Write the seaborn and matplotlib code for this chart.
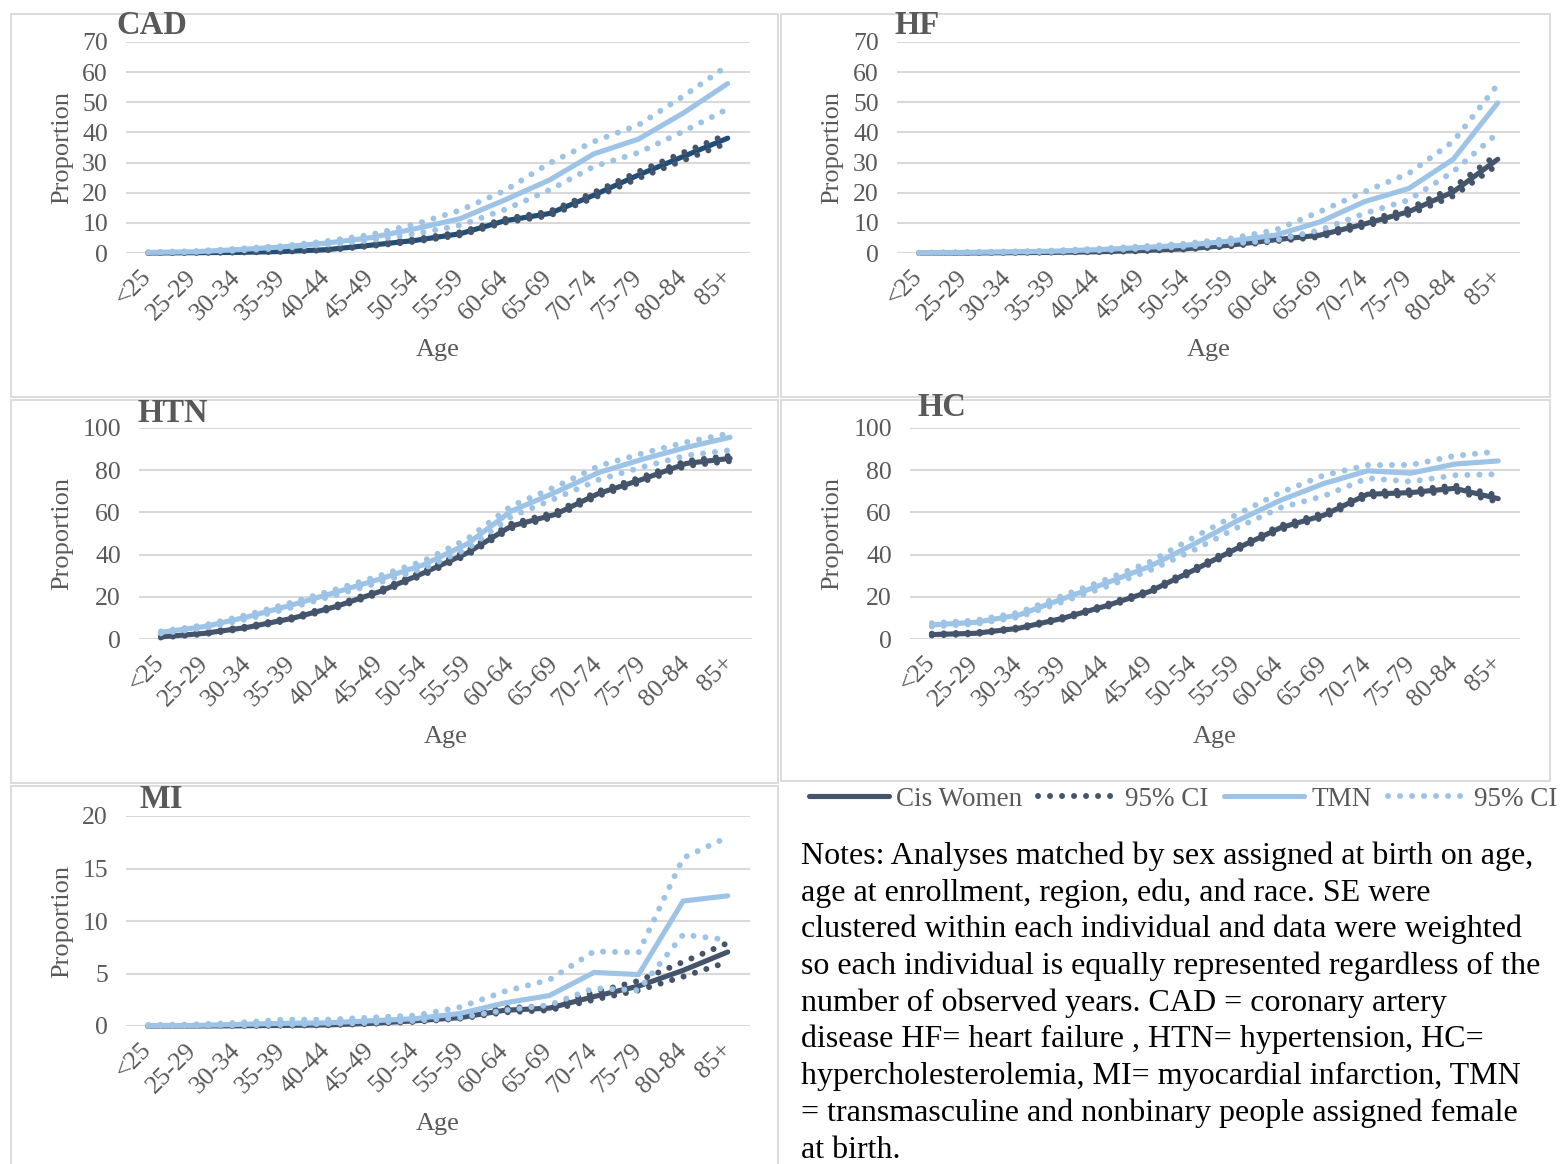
import numpy as np
import pandas as pd
import matplotlib
matplotlib.use("Agg")
import matplotlib.pyplot as plt
from matplotlib.patches import Rectangle
import seaborn as sns

sns.set_theme(style="white")
plt.rcParams["font.family"] = ["Liberation Serif", "DejaVu Serif"]

# ---- data -------------------------------------------------------------
ages = ["<25", "25-29", "30-34", "35-39", "40-44", "45-49", "50-54",
        "55-59", "60-64", "65-69", "70-74", "75-79", "80-84", "85+"]

cad_cis    = [0.0, 0.1, 0.2, 0.5, 1.1, 2.6, 4.2, 6.4, 10.7, 13.1, 19.2, 25.9, 32.0, 38.1]
cad_cis_lo = [0.0, 0.05, 0.15, 0.4, 0.9, 2.3, 3.8, 5.9, 10.1, 12.4, 18.3, 24.8, 30.7, 36.6]
cad_cis_hi = [0.05, 0.15, 0.3, 0.6, 1.3, 2.9, 4.6, 6.9, 11.3, 13.8, 20.1, 27.0, 33.3, 39.4]
cad_tmn    = [0.2, 0.4, 1.1, 2.0, 3.3, 5.1, 8.1, 11.4, 17.6, 24.2, 32.9, 37.8, 46.4, 56.2]
cad_tmn_lo = [0.1, 0.3, 0.8, 1.6, 2.8, 4.2, 6.4, 9.2, 14.4, 20.9, 28.7, 33.3, 40.3, 47.8]
cad_tmn_hi = [0.3, 0.6, 1.4, 2.3, 3.9, 6.1, 9.6, 14.2, 20.7, 29.8, 37.0, 42.5, 52.0, 62.2]

hf_cis    = [0.0, 0.0, 0.1, 0.2, 0.4, 0.8, 1.4, 2.6, 4.4, 5.9, 9.6, 13.7, 20.3, 31.1]
hf_cis_lo = [0.0, 0.0, 0.05, 0.15, 0.3, 0.6, 1.2, 2.2, 3.9, 5.3, 8.8, 12.7, 18.9, 29.3]
hf_cis_hi = [0.0, 0.05, 0.15, 0.25, 0.5, 1.0, 1.6, 3.0, 4.9, 6.5, 10.4, 14.7, 21.7, 32.9]
hf_tmn    = [0.1, 0.2, 0.4, 0.6, 1.1, 1.8, 2.6, 4.0, 5.9, 10.3, 17.0, 21.4, 31.1, 49.8]
hf_tmn_lo = [0.0, 0.1, 0.2, 0.4, 0.8, 1.4, 2.1, 3.1, 4.2, 7.6, 13.1, 17.6, 27.0, 39.8]
hf_tmn_hi = [0.1, 0.3, 0.5, 0.8, 1.4, 2.2, 3.1, 4.8, 7.6, 13.7, 20.3, 26.4, 37.0, 55.9]

htn_cis    = [1.0, 2.7, 5.6, 9.8, 15.4, 22.5, 31.3, 40.8, 53.5, 59.0, 69.0, 75.7, 83.2, 85.6]
htn_cis_lo = [0.7, 2.3, 5.1, 9.2, 14.7, 21.7, 30.4, 39.8, 52.4, 57.9, 67.9, 74.5, 82.0, 84.3]
htn_cis_hi = [1.3, 3.1, 6.1, 10.4, 16.1, 23.3, 32.2, 41.8, 54.6, 60.1, 70.1, 76.9, 84.4, 86.9]
htn_tmn    = [3.2, 5.9, 10.6, 16.2, 22.2, 28.4, 35.2, 45.1, 60.6, 69.4, 78.9, 85.2, 90.8, 95.6]
htn_tmn_lo = [2.7, 5.2, 9.6, 15.0, 20.8, 26.8, 33.4, 42.8, 58.0, 66.5, 75.5, 81.5, 87.0, 89.5]
htn_tmn_hi = [3.6, 6.6, 11.6, 17.4, 23.6, 30.0, 37.0, 47.5, 63.0, 72.0, 82.0, 88.0, 93.3, 97.5]

hc_cis    = [2.1, 2.7, 5.1, 9.8, 15.7, 22.5, 32.5, 42.9, 52.7, 58.7, 68.6, 69.4, 71.4, 66.5]
hc_cis_lo = [1.7, 2.3, 4.6, 9.2, 15.0, 21.7, 31.6, 41.9, 51.6, 57.6, 67.5, 68.3, 70.1, 65.0]
hc_cis_hi = [2.5, 3.1, 5.6, 10.4, 16.4, 23.3, 33.4, 43.9, 53.8, 59.8, 69.7, 70.5, 72.8, 68.0]
hc_tmn    = [6.7, 7.9, 11.4, 19.0, 26.5, 34.4, 44.8, 55.9, 65.7, 73.7, 79.7, 78.6, 82.9, 84.4]
hc_tmn_lo = [5.9, 7.1, 10.4, 17.6, 24.8, 32.5, 42.0, 52.7, 62.2, 67.8, 76.2, 74.6, 77.6, 78.1]
hc_tmn_hi = [7.5, 8.8, 12.6, 20.5, 28.2, 36.5, 48.0, 59.0, 69.4, 77.6, 82.4, 82.5, 86.8, 88.9]

mi_cis    = [0.0, 0.0, 0.02, 0.05, 0.1, 0.25, 0.5, 0.8, 1.5, 1.7, 2.8, 3.8, 5.3, 7.05]
mi_cis_lo = [0.0, 0.0, 0.01, 0.03, 0.07, 0.2, 0.4, 0.7, 1.3, 1.5, 2.5, 3.4, 4.7, 6.1]
mi_cis_hi = [0.0, 0.01, 0.04, 0.08, 0.15, 0.3, 0.6, 1.0, 1.7, 1.9, 3.2, 4.3, 6.1, 7.9]
mi_tmn    = [0.05, 0.05, 0.15, 0.25, 0.3, 0.5, 0.7, 1.2, 2.2, 2.9, 5.1, 4.9, 11.9, 12.4]
mi_tmn_lo = [0.0, 0.0, 0.05, 0.1, 0.2, 0.3, 0.5, 0.8, 1.5, 2.0, 3.6, 3.4, 8.7, 8.2]
mi_tmn_hi = [0.1, 0.15, 0.3, 0.6, 0.6, 0.8, 1.0, 1.8, 3.3, 4.4, 7.1, 7.0, 16.0, 18.0]

panels = [
    ("CAD", cad_cis, cad_cis_lo, cad_cis_hi, cad_tmn, cad_tmn_lo, cad_tmn_hi, 70, 10),
    ("HF", hf_cis, hf_cis_lo, hf_cis_hi, hf_tmn, hf_tmn_lo, hf_tmn_hi, 70, 10),
    ("HTN", htn_cis, htn_cis_lo, htn_cis_hi, htn_tmn, htn_tmn_lo, htn_tmn_hi, 100, 20),
    ("HC", hc_cis, hc_cis_lo, hc_cis_hi, hc_tmn, hc_tmn_lo, hc_tmn_hi, 100, 20),
    ("MI", mi_cis, mi_cis_lo, mi_cis_hi, mi_tmn, mi_tmn_lo, mi_tmn_hi, 20, 5),
]

notes_lines = [
    "Notes: Analyses matched by sex assigned at birth on age,",
    "age at enrollment, region, edu, and race. SE were",
    "clustered within each individual and data were weighted",
    "so each individual is equally represented regardless of the",
    "number of observed years. CAD = coronary artery",
    "disease HF= heart failure , HTN= hypertension, HC=",
    "hypercholesterolemia, MI= myocardial infarction, TMN",
    "= transmasculine and nonbinary people assigned female",
    "at birth.",
]

# ---- styling ----------------------------------------------------------
W, H = 1565, 1164
DARK = "#44546A"
NAVY = "#1F4E79"
LIGHT = "#9DC3E6"
GRID = "#D9D9D9"
TEXT = "#595959"
SOLID_LW = 3.7
DOT_LW = 4.3
DOTTED = (0, (0.01, 2.0))


def fx(px):
    return px / W


def fy(py):
    return 1 - py / H


# pixel boxes: (left, right, top, bottom) of each plot area
plot_boxes = {
    "CAD": (126, 750, 42, 253),
    "HF": (897, 1520, 42, 253),
    "HTN": (139, 752, 428, 639),
    "HC": (910, 1520, 428, 639),
    "MI": (126, 750, 816, 1026),
}
frame_boxes = [(11, 778, 14, 397), (781, 1550, 14, 397),
               (11, 778, 400, 783), (781, 1550, 400, 781),
               (11, 778, 786, 1166)]
title_pos = {"CAD": (116, 25), "HF": (894, 25), "HTN": (137, 413),
             "HC": (918, 408), "MI": (140, 800)}
ylabel_x = {"CAD": 62, "HF": 832, "HTN": 62, "HC": 832, "MI": 62}
xlabel_y = {"CAD": 350, "HF": 350, "HTN": 737, "HC": 737, "MI": 1124}

fig = plt.figure(figsize=(W / 100, H / 100), dpi=100)

for (l, r, t, b) in frame_boxes:
    fig.add_artist(Rectangle((fx(l), fy(b)), (r - l) / W, (b - t) / H,
                             transform=fig.transFigure, fill=False,
                             ec=GRID, lw=1.3))

x = np.arange(len(ages))
legend_handles = None

for name, cis, cis_lo, cis_hi, tmn, tmn_lo, tmn_hi, ymax, ystep in panels:
    l, r, t, b = plot_boxes[name]
    ax = fig.add_axes([fx(l), fy(b), (r - l) / W, (b - t) / H])

    solid_dark = NAVY if name == "CAD" else DARK
    sns.lineplot(x=x, y=cis, ax=ax, color=solid_dark, lw=SOLID_LW,
                 label="Cis Women", solid_capstyle="round")
    sns.lineplot(x=x, y=cis_lo, ax=ax, color=DARK, lw=DOT_LW,
                 linestyle=DOTTED, dash_capstyle="round", label="95% CI")
    sns.lineplot(x=x, y=cis_hi, ax=ax, color=DARK, lw=DOT_LW,
                 linestyle=DOTTED, dash_capstyle="round", label="_hi")
    sns.lineplot(x=x, y=tmn, ax=ax, color=LIGHT, lw=SOLID_LW,
                 label="TMN", solid_capstyle="round")
    sns.lineplot(x=x, y=tmn_lo, ax=ax, color=LIGHT, lw=DOT_LW,
                 linestyle=DOTTED, dash_capstyle="round", label="95% CI ")
    sns.lineplot(x=x, y=tmn_hi, ax=ax, color=LIGHT, lw=DOT_LW,
                 linestyle=DOTTED, dash_capstyle="round", label="_hi2")
    if ax.get_legend() is not None:
        ax.get_legend().remove()

    if name == "HF":
        lines = ax.get_lines()
        legend_handles = [lines[0], lines[1], lines[3], lines[4]]

    ax.set_xlim(-0.5, len(ages) - 0.5)
    ax.set_ylim(0, ymax)
    ax.set_yticks(np.arange(0, ymax + ystep / 2, ystep))
    ax.set_xticks(x)
    ax.set_xticklabels(ages, rotation=45, ha="right", va="center",
                       rotation_mode="anchor")
    ax.tick_params(axis="both", length=0, labelsize=18.5, labelcolor=TEXT)
    ax.tick_params(axis="y", pad=13)
    ax.tick_params(axis="x", pad=15)
    ax.yaxis.grid(True, color=GRID, lw=1.5)
    ax.set_axisbelow(True)
    for s in ax.spines.values():
        s.set_visible(False)
    for ln in ax.get_lines():
        ln.set_clip_on(False)

    ax.set_ylabel("Proportion", fontsize=19, color=TEXT)
    ax.yaxis.set_label_coords((ylabel_x[name] - l) / (r - l), 0.5)
    ax.yaxis.label.set_va("center")
    ax.set_xlabel("Age", fontsize=19, color=TEXT)
    ax.xaxis.set_label_coords(0.5, -(xlabel_y[name] - b) / (b - t))
    ax.xaxis.label.set_va("center")

    tx, ty = title_pos[name]
    fig.text(fx(tx), fy(ty), name, fontsize=23.5, fontweight="bold",
             color=TEXT, ha="left", va="center")

fig.legend(legend_handles, ["Cis Women", "95% CI", "TMN", "95% CI"],
           loc="center left", bbox_to_anchor=(fx(809), fy(799)),
           ncol=4, frameon=False, fontsize=19.5, labelcolor=TEXT,
           handlelength=2.95, handletextpad=0.25, columnspacing=0.6,
           borderpad=0, borderaxespad=0)

for i, line in enumerate(notes_lines):
    fig.text(fx(801), fy(856 + i * 36.75), line, fontsize=23,
             color="black", ha="left", va="center")

fig.savefig("out.png", dpi=100, facecolor="white")
